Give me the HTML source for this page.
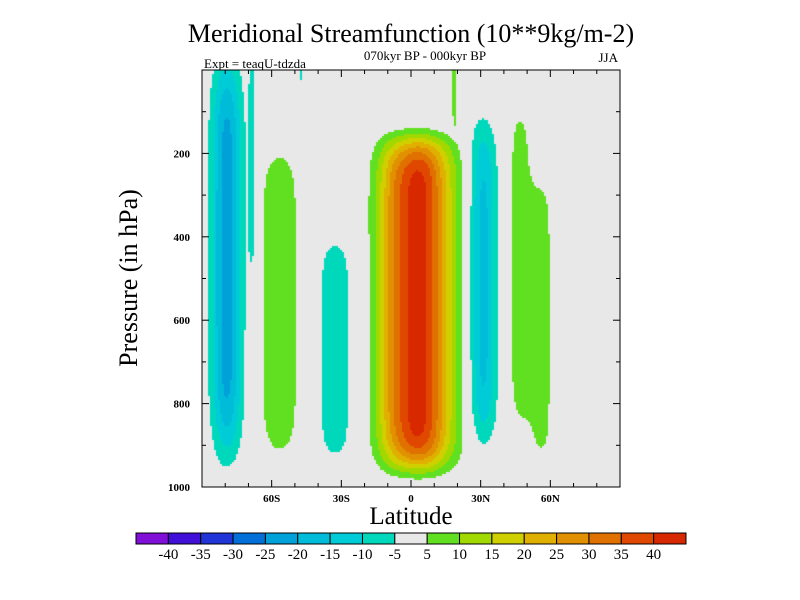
<!DOCTYPE html>
<html><head><meta charset="utf-8"><style>
body{margin:0;background:#fff;}
#wrap{position:relative;width:800px;height:600px;font-family:"Liberation Serif",serif;}
</style></head><body>
<div id="wrap">
<canvas id="field" width="418" height="417" style="position:absolute;left:202px;top:70px"></canvas>
<svg id="svg" width="800" height="600" style="position:absolute;left:0;top:0">
<text x="411" y="42" font-size="26" text-anchor="middle" font-family="Liberation Serif">Meridional Streamfunction (10**9kg/m-2)</text>
<text x="425" y="60" font-size="13" text-anchor="middle" font-family="Liberation Serif">070kyr BP - 000kyr BP</text>
<text x="204" y="68" font-size="13" font-family="Liberation Serif">Expt = teaqU-tdzda</text>
<text x="618" y="62" font-size="13" text-anchor="end" font-family="Liberation Serif">JJA</text>
<text transform="translate(137,278) rotate(-90)" font-size="26" text-anchor="middle" font-family="Liberation Serif">Pressure (in hPa)</text>
<text x="411" y="524" font-size="25" text-anchor="middle" font-family="Liberation Serif">Latitude</text>
<g id="axes"></g>
<g id="cbar"></g>
</svg>
</div>
<script>
const levels=[-40,-35,-30,-25,-20,-15,-10,-5,5,10,15,20,25,30,35,40];
const colors=["#8010d8","#4010d8","#2034d8","#0070d8","#00a0d8","#00bcd8","#00ccd8","#00d8bc","#e8e8e8","#60e020","#a0d800","#d0d000","#e0b000","#e09000","#e07000","#e04800","#d82800"];
const blobLat=[-79.3,-68.5,-56.6,-32.6,3,31,47,56,-47,-9,18.9];
const blobP=[450,230,560,670,560,510,470,600,10,560,50];
const blobW=[6.5,1.5,8.3,7.5,14,6,5,6,1,6,1.3];
const blobH=[467,250,365,265,395,380,380,350,30,380,90];
const blobPow=[6,8,8,8,12,6,8,8,4,8,6];
const blobPeak=[-23,-8,10,-9,43,-17,8,7,-6,6,8];
const pTicks=[200,400,600,800,1000];
const latTicks=[-60,-30,0,30,60];
const latLabels=["60S","30S","0","30N","60N"];
const X0=202,X1=620,Y0=70,Y1=487;
const xs=l=>X0+(l+90)/180*(X1-X0);
const ys=p=>Y0+p/1000*(Y1-Y0);
function val(lat,p){let v=0;for(let i=0;i<blobLat.length;i++){const dx=(lat-blobLat[i])/blobW[i],dp=(p-blobP[i])/blobH[i];v+=blobPeak[i]*Math.exp(-dx*dx-Math.pow(Math.abs(dp),blobPow[i]));}return v;}
function cls(v){let k=0;while(k<levels.length&&v>=levels[k])k++;return k;}
const cv=document.getElementById('field'),ctx=cv.getContext('2d');
for(let px=0;px<418;px+=2)for(let py=0;py<417;py+=2){const lat=(px+1)/418*180-90,p=(py+1)/417*1000;ctx.fillStyle=colors[cls(val(lat,p))];ctx.fillRect(px,py,2,2);}
const NS='http://www.w3.org/2000/svg';
function mk(t,a,parent){const e=document.createElementNS(NS,t);for(const k in a)e.setAttribute(k,a[k]);parent.appendChild(e);return e;}
const ax=document.getElementById('axes');
const fr=mk('rect',{x:X0,y:Y0,width:X1-X0,height:Y1-Y0,fill:'none',stroke:'#000','stroke-width':1},ax);


for(let p=100;p<=1000;p+=100){const L=p%200==0?7:4;
 const t1=mk('line',{x1:X0,x2:X0+L,y1:ys(p),y2:ys(p),stroke:'#000'},ax);
 
 
 const t2=mk('line',{x1:X1,x2:X1-L,y1:ys(p),y2:ys(p),stroke:'#000'},ax);
 
 }
for(let i=0;i<pTicks.length;i++){const t=mk('text',{x:X0-12,y:ys(pTicks[i])+4,'font-size':11,'font-weight':'bold','text-anchor':'end','font-family':'Liberation Serif'},ax);t.textContent=pTicks[i];
 
 }
for(let l=-80;l<=80;l+=10){const L=l%30==0?7:4;
 const t1=mk('line',{x1:xs(l),x2:xs(l),y1:Y1,y2:Y1-L,stroke:'#000'},ax);
 
 
 const t2=mk('line',{x1:xs(l),x2:xs(l),y1:Y0,y2:Y0+L,stroke:'#000'},ax);
 
 }
for(let i=0;i<latTicks.length;i++){const t=mk('text',{x:xs(latTicks[i]),y:Y1+15,'font-size':11,'font-weight':'bold','text-anchor':'middle','font-family':'Liberation Serif'},ax);t.textContent=latLabels[i];
 
 }
const cb=document.getElementById('cbar');const CX0=136,CX1=686,CY=533,CH=11,bw=(CX1-CX0)/colors.length;
for(let i=0;i<colors.length;i++){const r=mk('rect',{x:CX0+i*bw,y:CY,width:bw,height:CH,fill:colors[i],stroke:'#000','stroke-width':1},cb);
 
 }
for(let i=0;i<levels.length;i++){const t=mk('text',{x:CX0+(i+1)*bw,y:CY+CH+15,'font-size':15,'text-anchor':'middle','font-family':'Liberation Serif'},cb);t.textContent=levels[i];
 
 }
</script>
</body></html>
